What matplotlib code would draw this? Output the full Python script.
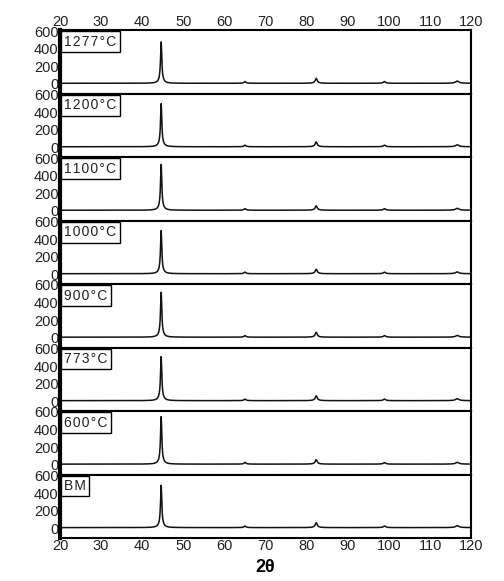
import numpy as np
import matplotlib.pyplot as plt

plt.rcParams['font.family'] = ['Liberation Sans', 'DejaVu Sans']

# sample labels, top to bottom
samples = ['1277°C', '1200°C', '1100°C', '1000°C', '900°C', '773°C', '600°C', 'BM']
# peak positions (2 theta) and widths
peak_pos = [44.6, 65.0, 82.3, 98.9, 116.6]
peak_wid = [0.35, 0.5, 0.55, 0.6, 0.9]
# peak heights per sample (counts)
peak_hts = [
    [470, 20, 55, 20, 25],
    [490, 18, 55, 18, 22],
    [520, 18, 50, 18, 22],
    [490, 18, 50, 18, 20],
    [510, 18, 55, 18, 20],
    [500, 18, 55, 18, 22],
    [540, 20, 50, 18, 20],
    [480, 18, 55, 18, 22],
]
baseline = 8

x = np.linspace(20, 120, 3000)

fig, axes = plt.subplots(len(samples), 1, figsize=(5.04, 5.81), dpi=100, sharex=True)
fig.subplots_adjust(left=0.119, right=0.935, top=0.948, bottom=0.074, hspace=0)

for i, ax in enumerate(axes):
    y = np.full_like(x, baseline, dtype=float)
    for p, w, h in zip(peak_pos, peak_wid, peak_hts[i]):
        # sharp core plus a broad foot
        y += 0.9 * h / (1 + ((x - p) / (w / 2)) ** 2)
        y += 0.1 * h / (1 + ((x - p) / (w * 1.5)) ** 2)
    ax.plot(x, y, color='#111111', lw=1.1)
    ax.set_xlim(20, 120)
    ax.set_ylim(-110, 610)
    ax.set_yticks([0, 200, 400, 600])
    ax.tick_params(axis='both', length=0, labelsize=10.5, pad=1, colors='#222222')
    for s in ax.spines.values():
        s.set_linewidth(1.5)
    ax.spines['left'].set_linewidth(3)
    label = '\u200a'.join(samples[i])
    ax.text(0.01, 0.93, label, transform=ax.transAxes, va='top', ha='left',
            fontsize=10, color='#222222',
            bbox=dict(boxstyle='square,pad=0.25', fc='white', ec='black', lw=1))
    ax.set_xticks(range(20, 121, 10))
    if i == 0:
        ax.tick_params(axis='x', top=True, labeltop=True, bottom=False, labelbottom=False)

axes[-1].set_xlabel('2θ', fontsize=13, fontweight='bold', labelpad=4)

plt.savefig('out.png', dpi=100)
